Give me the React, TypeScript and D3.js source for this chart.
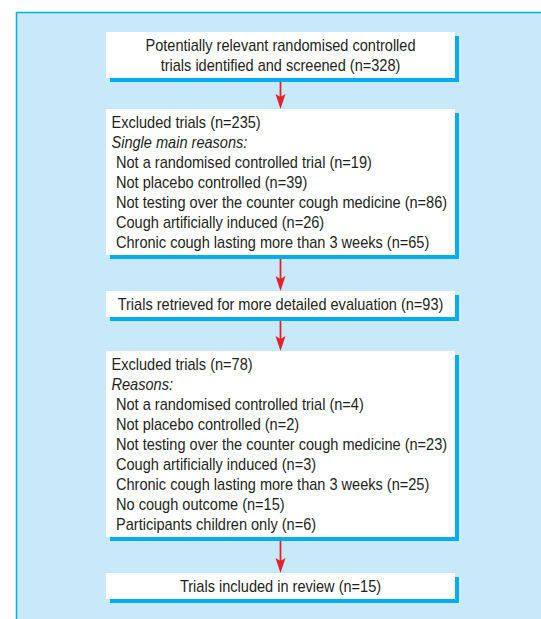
import * as d3 from "d3";
import { useEffect, useRef } from "react";

// Flowchart content
const box1Lines = [
  "Potentially relevant randomised controlled",
  "trials identified and screened (n=328)",
];
const box2Head = ["Excluded trials (n=235)"];
const box2Sub = ["Single main reasons:"];
const box2Items = [
  "Not a randomised controlled trial (n=19)",
  "Not placebo controlled (n=39)",
  "Not testing over the counter cough medicine (n=86)",
  "Cough artificially induced (n=26)",
  "Chronic cough lasting more than 3 weeks (n=65)",
];
const box3Lines = ["Trials retrieved for more detailed evaluation (n=93)"];
const box4Head = ["Excluded trials (n=78)"];
const box4Sub = ["Reasons:"];
const box4Items = [
  "Not a randomised controlled trial (n=4)",
  "Not placebo controlled (n=2)",
  "Not testing over the counter cough medicine (n=23)",
  "Cough artificially induced (n=3)",
  "Chronic cough lasting more than 3 weeks (n=25)",
  "No cough outcome (n=15)",
  "Participants children only (n=6)",
];
const box5Lines = ["Trials included in review (n=15)"];

type Line = { text: string; kind: "plain" | "italic" | "item" };
type Box = { lines: Line[]; align: "center" | "left" };

const boxes: Box[] = [
  { lines: box1Lines.map((t) => ({ text: t, kind: "plain" })), align: "center" },
  {
    lines: [
      ...box2Head.map((t) => ({ text: t, kind: "plain" as const })),
      ...box2Sub.map((t) => ({ text: t, kind: "italic" as const })),
      ...box2Items.map((t) => ({ text: t, kind: "item" as const })),
    ],
    align: "left",
  },
  { lines: box3Lines.map((t) => ({ text: t, kind: "plain" })), align: "center" },
  {
    lines: [
      ...box4Head.map((t) => ({ text: t, kind: "plain" as const })),
      ...box4Sub.map((t) => ({ text: t, kind: "italic" as const })),
      ...box4Items.map((t) => ({ text: t, kind: "item" as const })),
    ],
    align: "left",
  },
  { lines: box5Lines.map((t) => ({ text: t, kind: "plain" })), align: "center" },
];

const gaps = [31, 36, 34, 36];

const App: React.FC = () => {
  const ref = useRef<SVGSVGElement>(null);

  const width = 541;
  const height = 619;
  const boxLeft = 106;
  const boxRight = 455;
  const lineH = 20;
  const pad = 13;
  const shadow = 4;
  const squeeze = 0.91; // condensed look

  useEffect(() => {
    if (!ref.current) return;
    const svg = d3.select(ref.current);
    svg.selectAll("*").remove();

    // Background panel
    svg
      .append("rect")
      .attr("x", 16.5)
      .attr("y", 12.5)
      .attr("width", width)
      .attr("height", height)
      .attr("fill", "#c7e9f9")
      .attr("stroke", "#00aeef")
      .attr("stroke-width", 1.5);

    // Compute box positions
    let y = 32;
    const layout = boxes.map((b, i) => {
      const h = (b.lines.length - 1) * lineH + pad * 2;
      const top = y;
      y = top + h + (gaps[i] ?? 0);
      return { ...b, top, h };
    });

    const x = d3.scaleLinear().domain([0, 1]).range([boxLeft, boxRight]);
    const cx = x(0.5);

    // Arrows
    const arrowColor = "#e8202a";
    layout.slice(0, -1).forEach((b, i) => {
      const next = layout[i + 1];
      const y0 = b.top + b.h + shadow;
      const y1 = next.top;
      svg
        .append("line")
        .attr("x1", cx)
        .attr("x2", cx)
        .attr("y1", y0)
        .attr("y2", y1 - 10)
        .attr("stroke", arrowColor)
        .attr("stroke-width", 1.8);
      svg
        .append("path")
        .attr(
          "d",
          `M${cx},${y1} L${cx - 5},${y1 - 15} L${cx},${y1 - 12} L${cx + 5},${y1 - 15} Z`
        )
        .attr("fill", arrowColor);
    });

    // Boxes
    const g = svg
      .selectAll("g.box")
      .data(layout)
      .enter()
      .append("g")
      .attr("class", "box");

    g.append("rect")
      .attr("x", boxLeft + shadow)
      .attr("y", (d) => d.top + shadow)
      .attr("width", boxRight - boxLeft)
      .attr("height", (d) => d.h)
      .attr("fill", "#00aeef");

    g.append("rect")
      .attr("x", boxLeft)
      .attr("y", (d) => d.top)
      .attr("width", boxRight - boxLeft)
      .attr("height", (d) => d.h)
      .attr("fill", "#ffffff");

    g.each(function (d) {
      const sel = d3.select(this);
      d.lines.forEach((ln, j) => {
        const tx =
          d.align === "center"
            ? cx
            : boxLeft + (ln.kind === "item" ? 10 : 5.5);
        const ty = d.top + pad + j * lineH;
        sel
          .append("text")
          .attr("transform", `translate(${tx},${ty}) scale(${squeeze},1)`)
          .attr("dy", "0.36em")
          .attr("text-anchor", d.align === "center" ? "middle" : "start")
          .attr("font-family", "'Liberation Sans', Arial, sans-serif")
          .attr("font-size", 16)
          .attr("font-style", ln.kind === "italic" ? "italic" : "normal")
          .attr("fill", "#231f20")
          .text(ln.text);
      });
    });
  }, []);

  return (
    <svg
      ref={ref}
      width={width}
      height={height}
      style={{ position: "absolute", left: 0, top: 0, background: "#ffffff" }}
    ></svg>
  );
};

export default App;
